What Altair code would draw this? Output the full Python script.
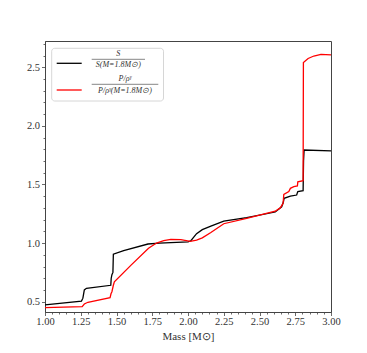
import altair as alt
import pandas as pd

# ---- data ----
black_mass = [1.0, 1.255, 1.265, 1.275, 1.29, 1.46, 1.463, 1.468, 1.475, 1.478, 1.55, 1.72, 1.8, 2.0,
              2.02, 2.06, 2.1, 2.16, 2.25, 2.41, 2.61, 2.655, 2.667, 2.672, 2.716, 2.76, 2.765, 2.768,
              2.805, 2.808, 2.812, 3.0]
black_val = [0.472, 0.505, 0.53, 0.6, 0.614, 0.64, 0.70, 0.73, 0.75, 0.905, 0.935, 0.992, 1.0, 1.01,
             1.02, 1.08, 1.115, 1.145, 1.187, 1.217, 1.265, 1.31, 1.35, 1.382, 1.40, 1.41, 1.43, 1.439,
             1.447, 1.70, 1.794, 1.786]

red_mass = [1.0, 1.26, 1.275, 1.30, 1.455, 1.462, 1.468, 1.478, 1.485, 1.60, 1.724, 1.78, 1.83, 1.88,
            1.95, 2.016, 2.06, 2.10, 2.16, 2.25, 2.41, 2.61, 2.645, 2.665, 2.67, 2.705, 2.716, 2.74,
            2.765, 2.768, 2.805, 2.807, 2.84, 2.88, 2.93, 3.0]
red_val = [0.449, 0.458, 0.48, 0.495, 0.535, 0.57, 0.585, 0.64, 0.67, 0.81, 0.956, 1.0, 1.02, 1.032,
           1.03, 1.015, 1.025, 1.045, 1.09, 1.165, 1.21, 1.272, 1.30, 1.34, 1.415, 1.44, 1.467, 1.481,
           1.487, 1.522, 1.532, 2.54, 2.575, 2.596, 2.61, 2.605]

x_major = [1.0, 1.25, 1.5, 1.75, 2.0, 2.25, 2.5, 2.75, 3.0]
x_minor = [1.05, 1.1, 1.15, 1.2, 1.3, 1.35, 1.4, 1.45, 1.55, 1.6, 1.65, 1.7, 1.8, 1.85, 1.9, 1.95,
           2.05, 2.1, 2.15, 2.2, 2.3, 2.35, 2.4, 2.45, 2.55, 2.6, 2.65, 2.7, 2.8, 2.85, 2.9, 2.95]
y_major = [0.5, 1.0, 1.5, 2.0, 2.5]
y_minor = [0.6, 0.7, 0.8, 0.9, 1.1, 1.2, 1.3, 1.4, 1.6, 1.7, 1.8, 1.9, 2.1, 2.2, 2.3, 2.4, 2.6, 2.7]

series_names = ["S", "P"]
series_colors = ["#000000", "#ff0000"]

x_domain = [1.0, 3.0]
y_domain = [0.412, 2.724]

df = pd.concat([
    pd.DataFrame({"mass": black_mass, "val": black_val, "series": "S", "i": range(len(black_mass))}),
    pd.DataFrame({"mass": red_mass, "val": red_val, "series": "P", "i": range(len(red_mass))}),
])

FONT = "Liberation Serif"
TXT = "#333333"
W, H = 286, 271

xscale = alt.Scale(domain=x_domain, nice=False, zero=False)
yscale = alt.Scale(domain=y_domain, nice=False, zero=False)

lines = alt.Chart(df).mark_line(strokeWidth=1.3).encode(
    x=alt.X("mass:Q", scale=xscale,
            axis=alt.Axis(values=x_major, format=".2f", title="Mass [M⊙]", grid=False,
                          tickSize=3.5, labelPadding=1, titlePadding=3, orient="bottom",
                          labelFlush=False, labelOverlap=False)),
    y=alt.Y("val:Q", scale=yscale,
            axis=alt.Axis(values=y_major, format=".1f", title=None, grid=False,
                          tickSize=3.5, labelPadding=2, orient="left",
                          labelFlush=False, labelOverlap=False)),
    color=alt.Color("series:N", scale=alt.Scale(domain=series_names, range=series_colors), legend=None),
    detail="series:N",
    order="i:Q",
)

minor = alt.Chart(df).mark_point(opacity=0).encode(
    x=alt.X("mass:Q", scale=xscale,
            axis=alt.Axis(values=x_minor, labels=False, title=None, grid=False, domain=False,
                          tickSize=2, orient="bottom")),
    y=alt.Y("val:Q", scale=yscale,
            axis=alt.Axis(values=y_minor, labels=False, title=None, grid=False, domain=False,
                          tickSize=2, orient="left")),
)

one = pd.DataFrame({"a": [0]})

def txt(s, x, y, size=8, italic=True):
    return alt.Chart(one).mark_text(text=s, font=FONT, fontSize=size, color=TXT,
                                    fontStyle="italic" if italic else "normal",
                                    align="center", baseline="middle").encode(
        x=alt.value(x), y=alt.value(y))

def rule(x1, x2, y, color, w):
    return alt.Chart(one).mark_rule(color=color, strokeWidth=w).encode(
        x=alt.value(x1), x2=alt.value(x2), y=alt.value(y))

legend_box = alt.Chart(one).mark_rect(fill="white", fillOpacity=0.8, stroke="#cccccc",
                                      strokeWidth=0.8, cornerRadius=3).encode(
    x=alt.value(6.7), x2=alt.value(118.5), y=alt.value(7.3), y2=alt.value(60))

legend = [
    legend_box,
    rule(11.7, 36.7, 22.3, "#000000", 1.3),
    txt("S", 73.3, 13, 8),
    rule(46.7, 100, 18.3, TXT, 0.6),
    txt("S(M=1.8M⊙)", 73.3, 24, 8),
    rule(11.7, 36.7, 49, "#ff0000", 1.3),
    txt("P/ρᵞ", 80, 37.5, 8),
    rule(46.7, 113.3, 43.3, TXT, 0.6),
    txt("P/ρᵞ(M=1.8M⊙)", 80, 50, 8),
]

chart = alt.layer(lines, minor, *legend).resolve_axis(x="independent", y="independent").properties(
    width=W, height=H,
    autosize=alt.AutoSizeParams(type="none"),
    padding={"left": 37, "top": 33, "right": 20, "bottom": 35},
).configure_view(stroke="#444444", strokeWidth=1).configure_axis(
    labelFont=FONT, titleFont=FONT, labelFontSize=10.5, titleFontSize=11,
    labelColor=TXT, titleColor=TXT, domainColor="#444444", tickColor="#444444",
    titleFontWeight="normal", domainWidth=1, tickWidth=0.8,
)

chart.save("out.html", embed_options={"renderer": "svg", "actions": False})
